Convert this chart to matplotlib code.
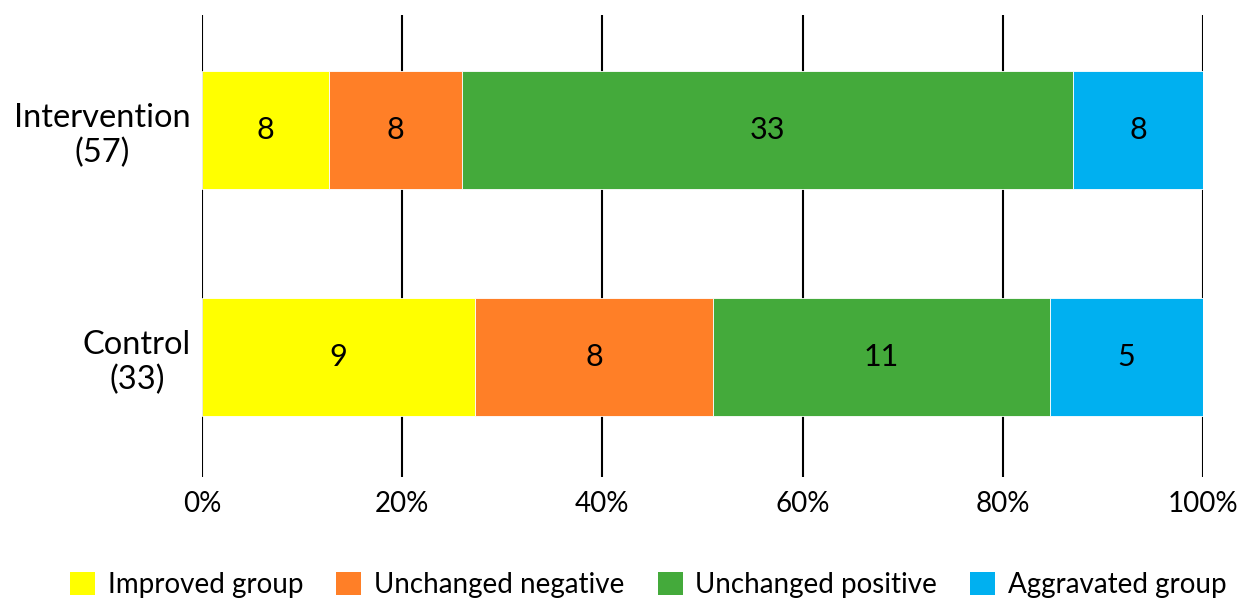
import matplotlib.pyplot as plt
from matplotlib.patches import Patch

# -- Data ---------------------------------------------------------------------
groups = ["Control\n(33)", "Intervention\n(57)"]
categories = ["Improved group", "Unchanged negative", "Unchanged positive", "Aggravated group"]
colors = ["#FFFF00", "#FF7F27", "#44AA3B", "#00B0F0"]

# counts shown in the bars
control_counts = [9, 8, 11, 5]
intervention_counts = [8, 8, 33, 8]

# bar widths (percent)
control_share = [27.3, 23.8, 33.6, 15.3]
intervention_share = [12.7, 13.3, 61.0, 13.0]

ticks = [0, 20, 40, 60, 80, 100]
tick_labels = ["0%", "20%", "40%", "60%", "80%", "100%"]

plt.rcParams["font.family"] = ["Lato", "DejaVu Sans"]

fig = plt.figure(figsize=(12.42, 6.03), dpi=100)
ax = fig.add_axes([0.1626, 0.209, 0.806, 0.766])

counts = [control_counts, intervention_counts]
shares = [control_share, intervention_share]

for row in range(2):
    left = 0
    for k in range(len(categories)):
        w = shares[row][k]
        ax.barh(row, w, left=left, height=0.52, color=colors[k],
                edgecolor="white", linewidth=0.6, zorder=3)
        ax.text(left + w / 2, row, str(counts[row][k]), ha="center", va="center",
                fontsize=22, color="black", zorder=4)
        left += w

ax.set_xlim(0, 100)
ax.set_ylim(-0.529, 1.507)
ax.set_xticks(ticks)
ax.set_xticklabels(tick_labels, fontsize=20)
ax.set_yticks([0, 1])
ax.set_yticklabels(groups, fontsize=23.5, linespacing=1.2)
for lab in ax.get_yticklabels():
    lab.set_multialignment("center")
ax.tick_params(axis="both", length=0)
ax.tick_params(axis="x", pad=10)
ax.tick_params(axis="y", pad=8)
ax.xaxis.grid(True, color="black", linewidth=1.5, zorder=0)
ax.set_axisbelow(True)
for s in ax.spines.values():
    s.set_visible(False)

handles = [Patch(facecolor=c, edgecolor="none") for c in colors]
fig.legend(handles, categories, loc="center", bbox_to_anchor=(0.522, 0.03),
           ncol=4, frameon=False, fontsize=20, handlelength=0.9, handleheight=0.9,
           columnspacing=1.2, handletextpad=0.45)

fig.savefig("out.png", dpi=100)
